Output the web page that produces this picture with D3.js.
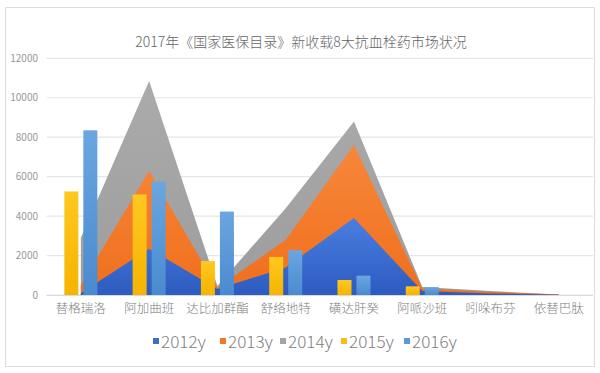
<!DOCTYPE html>
<html><head><meta charset="utf-8">
<script src="https://cdn.jsdelivr.net/npm/d3@7"></script>
<style>body{margin:0;background:#fff}svg{display:block}</style>
</head><body>
<svg id="c" width="600" height="373"></svg>
<script>
const categories = ["替格瑞洛","阿加曲班","达比加群酯","舒络地特","磺达肝癸","阿哌沙班","吲哚布芬","依替巴肽"];
const seriesNames = ["2012y","2013y","2014y","2015y","2016y"];
const y2012 = [100, 2350, 300, 1400, 3900, 200, 80, 10];
const y2013 = [500, 6300, 350, 2800, 7600, 330, 150, 20];
const y2014 = [2900, 10850, 450, 4400, 8800, 400, 200, 20];
const y2015 = [5250, 5100, 1720, 1930, 760, 440, 0, 0];
const y2016 = [8350, 5750, 4230, 2270, 980, 400, 0, 0];
const yTicks = [0, 2000, 4000, 6000, 8000, 10000, 12000];
const title = "2017年《国家医保目录》新收载8大抗血栓药市场状况";

const svg = d3.select("#c");
const font = "'Noto Sans CJK SC','Noto Sans',sans-serif";

// frame
svg.append("rect").attr("x",5.5).attr("y",7.5).attr("width",589).attr("height",359)
  .attr("fill","#fff").attr("stroke","#dcdcdc");

const defs = svg.append("defs");
function grad(id, c1, c2){
  const g = defs.append("linearGradient").attr("id",id).attr("x1",0).attr("y1",0).attr("x2",0).attr("y2",1);
  g.append("stop").attr("offset","0%").attr("stop-color",c1);
  g.append("stop").attr("offset","100%").attr("stop-color",c2);
}
grad("g2012","#4a7ee0","#2d5bbf");
grad("g2013","#f7873a","#ef6f1c");
grad("g2014","#ababab","#9d9d9d");
grad("g2015","#ffc820","#f5b400");
grad("g2016","#6aa6e0","#4a8ad0");
const colors = ["#3a6fd2","#f07a28","#a5a5a5","#fbbd10","#5b9bd5"];

const x = d3.scaleBand().domain(categories).range([46.7, 593]);
const y = d3.scaleLinear().domain([0, 12000]).range([295, 58.3]);
const cx = d => x(d) + x.bandwidth()/2;

// gridlines
svg.append("g").selectAll("line").data(yTicks).join("line")
  .attr("x1",46.7).attr("x2",593).attr("y1",d=>y(d)).attr("y2",d=>y(d))
  .attr("stroke","#e6e6e6").attr("stroke-width",1.2);

// y axis
const ya = svg.append("g").attr("transform","translate(44,0)")
  .call(d3.axisLeft(y).tickValues(yTicks).tickFormat(d3.format("d")).tickSize(0).tickPadding(6));
ya.select(".domain").remove();
ya.selectAll("text").attr("font-family",font).attr("font-size",10).attr("fill","#999");

// areas (2014 back, 2013, 2012 front)
const area = d3.area().x((d,i)=>cx(categories[i])).y0(y(0)).y1(d=>y(d));
[[y2014,"g2014"],[y2013,"g2013"],[y2012,"g2012"]].forEach(([data,g])=>{
  svg.append("path").datum(data).attr("d",area).attr("fill",`url(#${g})`);
});

// bars
const bw = 14;
function bars(data, off, g){
  svg.append("g").selectAll("rect").data(data).join("rect")
    .attr("x",(d,i)=>cx(categories[i]) + off)
    .attr("y",d=>y(d)).attr("width",bw).attr("height",d=>y(0)-y(d))
    .attr("fill",`url(#${g})`);
}
bars(y2015, -16.5, "g2015");
bars(y2016, 2.5, "g2016");

// baseline
svg.append("line").attr("x1",46.7).attr("x2",593).attr("y1",y(0)+0.5).attr("y2",y(0)+0.5)
  .attr("stroke","#d9d9d9");

// x labels
const xa = svg.append("g").attr("transform",`translate(0,${y(0)})`)
  .call(d3.axisBottom(x).tickSize(0).tickPadding(9));
xa.select(".domain").remove();
xa.selectAll("text").attr("font-family",font).attr("font-size",12.5).attr("font-weight",300).attr("fill","#808080");

// title
svg.append("text").attr("x",301).attr("y",47).attr("text-anchor","middle")
  .attr("font-family",font).attr("font-size",14).attr("font-weight",300).attr("fill","#666").text(title);

// legend
const legX = [153, 220, 280, 341, 404];
const lg = svg.append("g");
seriesNames.forEach((s,i)=>{
  lg.append("rect").attr("x",legX[i]).attr("y",338).attr("width",6).attr("height",6).attr("fill",colors[i]);
  lg.append("text").attr("x",legX[i]+8).attr("y",347.5).attr("font-family",font)
    .attr("font-size",16).attr("font-weight",300).attr("fill","#808080")
    .attr("textLength",45).attr("lengthAdjust","spacingAndGlyphs").text(s);
});
</script>
</body></html>
